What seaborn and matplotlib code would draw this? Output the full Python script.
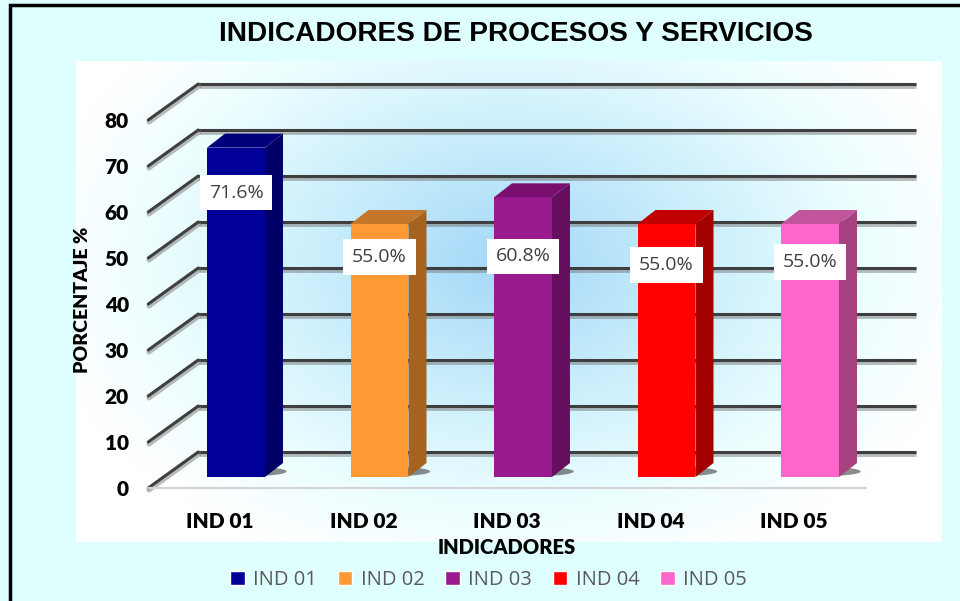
import numpy as np
import matplotlib.pyplot as plt
import seaborn as sns
import matplotlib.patheffects as pe
from matplotlib.patches import Polygon, Rectangle, Ellipse
from matplotlib.colors import LinearSegmentedColormap

# ---- data ----
categories = ["IND 01", "IND 02", "IND 03", "IND 04", "IND 05"]
values = [71.6, 55.0, 60.8, 55.0, 55.0]
y_ticks = [0, 10, 20, 30, 40, 50, 60, 70, 80]

# bar face colours (front / right side / top)
front_colors = ["#000099", "#FF9933", "#991A8F", "#FF0000", "#FF66CC"]
side_colors = ["#000066", "#A6621F", "#660F5F", "#A30000", "#A6427F"]
top_colors = ["#00007A", "#C4762B", "#7A0F70", "#C00000", "#C2549C"]

# how far below the bar top each value box sits (pixels)
label_drop_px = [45, 33, 59, 41, 38]

sns.set_theme(style="white")
plt.rcParams['font.family'] = ['Lato', 'DejaVu Sans']
plt.rcParams['text.color'] = 'black'
plt.rcParams['axes.labelcolor'] = 'black'
plt.rcParams['xtick.color'] = 'black'
plt.rcParams['ytick.color'] = 'black'

W, H = 960, 601
fig = plt.figure(figsize=(9.6, 6.01), dpi=100, facecolor='#DFFFFF')


def fig_box(left, top, width, height):
    # pixel box (from top-left) -> figure fraction
    return [left / W, 1 - (top + height) / H, width / W, height / H]


# outer black frame
fig.add_artist(Rectangle((10 / W, -0.05), 1.0, 1 - 5 / H + 0.05,
                         transform=fig.transFigure, fill=False, ec='black', lw=2.5))

# plot area with soft blue glow
bg = fig.add_axes(fig_box(76, 61, 866, 481), zorder=0)
gx, gy = np.meshgrid(np.linspace(0, 1, 300), np.linspace(0, 1, 200))
dist = np.sqrt(((gx - 0.5) / 0.55) ** 2 + ((gy - 0.42) / 0.68) ** 2)
glow = LinearSegmentedColormap.from_list(
    'glow', [(0, '#A4D7F8'), (0.45, '#CFF1FC'), (0.75, '#EDFEFF'), (1, '#FFFFFF')])
bg.imshow(np.clip(dist, 0, 1), cmap=glow, vmin=0, vmax=1, aspect='auto',
          extent=(0, 1, 0, 1), origin='upper')
bg.axis('off')

# front plane (tick labels) and bar plane
ax_f = fig.add_axes(fig_box(148.25, 120, 717.5, 368), zorder=1)
ax = fig.add_axes(fig_box(164.25, 109, 717.5, 368), zorder=2)

sns.barplot(x=categories, y=values, hue=categories, palette=front_colors,
            width=0.404, saturation=1, ax=ax, legend=True)
ax.set_xlim(-0.5, 4.5)
ax.set_ylim(0, 80)
ax.set_facecolor('none')
ax.axis('off')

# pixel -> data conversions
sx = 5 / 717.5
sy = 80 / 368
fdx, fdy = -16 * sx, -11 * sy     # front plane
bdx, bdy = 34 * sx, 25 * sy       # back wall
ddx, ddy = 18 * sx, 14 * sy       # bar depth

line_fx = [pe.SimpleLineShadow(offset=(0.5, -1.5), shadow_color='#777777', alpha=0.5, linewidth=3.5),
           pe.Normal()]
for v in y_ticks:
    ax.plot([-0.5 + bdx, 4.5 + bdx], [v + bdy, v + bdy], color='#3F3F3F', lw=2.2,
            clip_on=False, zorder=1, path_effects=line_fx, solid_capstyle='butt')
    ax.plot([-0.5 + fdx, -0.5 + bdx], [v + fdy, v + bdy], color='#3F3F3F', lw=2.2,
            clip_on=False, zorder=1, path_effects=line_fx)
ax.plot([-0.5 + fdx, 4.5 + fdx], [fdy, fdy], color='#D3D3D3', lw=1.5, clip_on=False, zorder=1)

# 3D faces, shadows and value boxes
for i, cont in enumerate(ax.containers):
    bar = cont[0]
    x0, w, h = bar.get_x(), bar.get_width(), bar.get_height()
    bar.set_edgecolor('none')
    bar.set_zorder(3)
    ax.add_patch(Ellipse((x0 + w * 0.75, 1.2), w * 1.25, 2.0, fc='#2E2E2E', ec='none',
                         alpha=0.55, zorder=2, clip_on=False))
    ax.add_patch(Polygon([(x0 + w, 0), (x0 + w + ddx, ddy), (x0 + w + ddx, h + ddy), (x0 + w, h)],
                         closed=True, fc=side_colors[i], ec='none', zorder=3, clip_on=False))
    ax.add_patch(Polygon([(x0, h), (x0 + ddx, h + ddy), (x0 + w + ddx, h + ddy), (x0 + w, h)],
                         closed=True, fc=top_colors[i], ec='none', zorder=3, clip_on=False))
    ax.annotate(f"{values[i]:.1f}%", xy=(x0 + w / 2, h), xytext=(0, -label_drop_px[i] * 0.72),
                textcoords='offset points', ha='center', va='center', fontsize=14,
                family='Open Sans', color='#404040', zorder=6,
                bbox=dict(boxstyle='square,pad=0.45', fc='white', ec='none'))

# axis text on the front plane
ax_f.set_xlim(-0.5, 4.5)
ax_f.set_ylim(0, 80)
ax_f.set_facecolor('none')
ax_f.set_yticks(y_ticks)
ax_f.set_xticks(range(len(categories)), categories)
ax_f.tick_params(axis='y', length=0, pad=14, labelsize=15, colors='black')
ax_f.tick_params(axis='x', length=0, pad=17, labelsize=15, colors='black')
for lab in ax_f.get_xticklabels() + ax_f.get_yticklabels():
    lab.set_fontweight('heavy')
ax_f.set_xlabel('INDICADORES', fontsize=14.5, fontweight='heavy', labelpad=5, color='black')
sns.despine(ax=ax_f, left=True, bottom=True)

fig.text(82 / W, 1 - 300 / H, 'PORCENTAJE %', rotation=90, ha='center', va='center',
         fontsize=14, fontweight='heavy', color='black')
fig.text(516 / W, 1 - 34 / H, 'INDICADORES DE PROCESOS Y SERVICIOS', ha='center', va='center',
         fontsize=20.2, fontweight='bold', family='Liberation Sans', color='black')

sns.move_legend(ax, 'center', bbox_to_anchor=(0.452, -0.28), ncol=5, frameon=False, title=None,
                prop={'family': 'Open Sans', 'size': 14.5}, handlelength=0.72, handleheight=0.72,
                handletextpad=0.4, columnspacing=1.05)
for t in ax.get_legend().get_texts():
    t.set_color('#595959')

fig.savefig('out.png', dpi=100, facecolor=fig.get_facecolor())
